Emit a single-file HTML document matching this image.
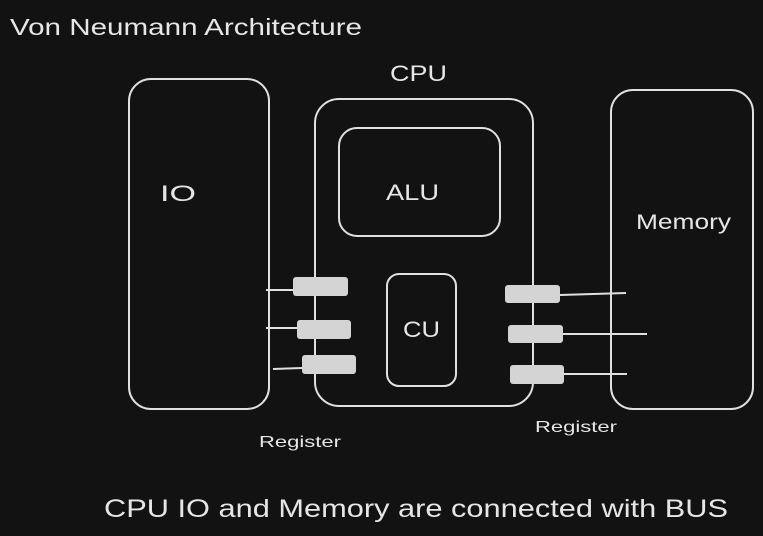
<!DOCTYPE html>
<html><head><style>
html,body{margin:0;padding:0;background:#121212;}
svg{display:block}
text{font-family:"Liberation Sans",sans-serif;fill:#e6e6e6;}
</style></head><body>
<svg width="763" height="536" viewBox="0 0 763 536">
<rect width="763" height="536" fill="#121212"/>
<g fill="none" stroke="#e0e0e0" stroke-width="2">
<rect x="129" y="79" width="140" height="330" rx="22"/>
<rect x="315" y="99" width="218" height="307" rx="24"/>
<rect x="339" y="128" width="161" height="108" rx="18"/>
<rect x="387" y="274" width="69" height="112" rx="12"/>
<rect x="611" y="90" width="142" height="319" rx="22"/>
<line x1="266" y1="290" x2="293" y2="290"/>
<line x1="266" y1="328" x2="297" y2="328"/>
<line x1="273" y1="369" x2="302" y2="368"/>
<line x1="560" y1="295" x2="626" y2="293"/>
<line x1="563" y1="334" x2="647" y2="334"/>
<line x1="564" y1="374" x2="627" y2="374"/>
</g>
<g fill="#d4d4d4">
<rect x="293" y="277" width="55" height="19" rx="3"/>
<rect x="297" y="320" width="54" height="19" rx="3"/>
<rect x="302" y="355" width="54" height="19" rx="3"/>
<rect x="505" y="285" width="55" height="18" rx="3"/>
<rect x="508" y="325" width="55" height="18" rx="3"/>
<rect x="510" y="365" width="54" height="19" rx="3"/>
</g>
<g lengthAdjust="spacingAndGlyphs">
<text x="10" y="35" font-size="23" textLength="352" lengthAdjust="spacingAndGlyphs">Von Neumann Architecture</text>
<text x="390" y="81" font-size="22" textLength="57" lengthAdjust="spacingAndGlyphs">CPU</text>
<text x="160" y="201" font-size="22" textLength="36" lengthAdjust="spacingAndGlyphs">IO</text>
<text x="386" y="200" font-size="22" textLength="53" lengthAdjust="spacingAndGlyphs">ALU</text>
<text x="636" y="229" font-size="21" textLength="95" lengthAdjust="spacingAndGlyphs">Memory</text>
<text x="403" y="337" font-size="22" textLength="37" lengthAdjust="spacingAndGlyphs">CU</text>
<text x="259" y="447" font-size="16" textLength="82" lengthAdjust="spacingAndGlyphs">Register</text>
<text x="535" y="432" font-size="16" textLength="82" lengthAdjust="spacingAndGlyphs">Register</text>
<text x="104" y="517" font-size="25" textLength="624" lengthAdjust="spacingAndGlyphs">CPU IO and Memory are connected with BUS</text>
</g>
</svg>
</body></html>
